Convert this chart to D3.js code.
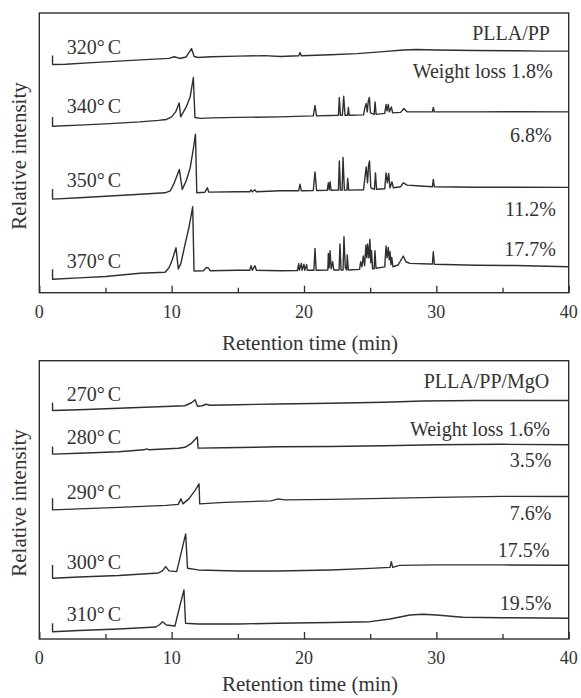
<!DOCTYPE html>
<html><head><meta charset="utf-8">
<script src="https://cdn.jsdelivr.net/npm/d3@7"></script>
<style>
body{margin:0;background:#fff}
text{font-family:"Liberation Serif","Times New Roman",serif;fill:#333}
</style></head>
<body><svg id="c" width="581" height="698"></svg>
<script>
// ---------------- data ----------------
const xTicks = [0, 10, 20, 30, 40];
const xMinorTicks = [5, 15, 25, 35];
const xTitle = "Retention time (min)";
const yTitle = "Relative intensity";

const topSample = "PLLA/PP";
const topTemps = ["320", "340", "350", "370"];
const topLosses = ["Weight loss 1.8%", "6.8%", "11.2%", "17.7%"];

const botSample = "PLLA/PP/MgO";
const botTemps = ["270", "280", "290", "300", "310"];
const botLosses = ["Weight loss 1.6%", "3.5%", "7.6%", "17.5%", "19.5%"];

// [retention time (min), relative intensity incl. stacking offset]
const t320 = [[1.0,237.5],[1.0,228.5],[2,228.7],[4,230.3],[6,231.8],[8,233.3],[9.8,234.6],[10.2,236.2],[10.6,234.5],[11.1,236],[11.5,244.4],[11.7,236.5],[12,235.5],[13,236.2],[15,236.8],[17,237.3],[18.2,236.5],[19.6,237.2],[19.7,240.5],[19.8,237.2],[22,238.2],[24,239.3],[26,241.3],[27.5,243],[28.5,243.5],[30,243],[33,242.5],[36,242.2],[38,241.8],[40,241.8]];
const t340 = [[1.0,176],[1.0,166.7],[3,167.8],[5,169],[7.6,171],[9.0,172.5],[9.6,173.4],[10.0,176],[10.3,181],[10.57,190],[10.68,176],[11.1,186],[11.4,196],[11.64,215.4],[11.76,175.4],[12.2,174.5],[13,175],[15,175.5],[18.2,176],[20.0,176.8],[20.7,177],[20.83,187.4],[20.95,177],[22,177.4],[22.6,177.7],[22.67,195.4],[22.75,177.7],[22.9,177.7],[23.0,196.7],[23.1,177.7],[23.3,177.7],[23.35,185.4],[23.42,177.7],[24.5,178],[24.6,185],[24.7,189.4],[24.78,181],[24.86,192],[24.94,195.4],[25.02,180],[25.3,178.5],[25.37,191],[25.45,178.5],[26.1,179.5],[26.2,188.4],[26.28,182],[26.37,188.4],[26.45,181],[26.6,186],[26.7,180],[27.3,180.5],[27.55,184.4],[27.8,181],[29.7,181],[29.77,185.4],[29.85,181],[33,181],[36,181.2],[40,181]];
const t350 = [[1.0,103.7],[1.0,93.7],[3,95],[5,96.5],[7,98],[9.5,100],[9.9,102],[10.2,110],[10.58,123.4],[10.8,103.4],[11.1,112],[11.4,125],[11.65,145],[11.8,158.7],[11.9,100],[12.5,100.5],[12.7,105],[12.8,100.7],[15,101],[15.9,101],[16.0,103],[16.1,101],[16.3,103],[16.4,101],[18.2,102],[19.6,102],[19.7,108.7],[19.8,102],[20.7,102.3],[20.83,121],[20.95,102.3],[21.75,102.5],[21.84,110],[21.9,103],[21.97,111],[22.05,102.5],[22.6,102.7],[22.67,132],[22.75,102.7],[22.88,102.7],[22.95,135.4],[23.05,102.7],[23.25,102.7],[23.3,114.4],[23.38,102.7],[24.5,103],[24.6,115],[24.7,126],[24.8,110],[24.88,128],[24.95,132],[25.05,105],[25.32,103.5],[25.4,120],[25.48,103.5],[26.1,104],[26.2,120],[26.3,110],[26.4,119.4],[26.5,105],[26.65,111],[26.75,105],[27.3,106],[27.5,110],[27.8,107.7],[28.5,107],[29.7,106],[29.77,113.4],[29.85,106],[33,105.5],[36,105.5],[40,105.4]];
const t370 = [[1.0,23.4],[1.0,13.4],[3,14.8],[5,16.2],[7.6,19.4],[9.5,20.4],[9.8,25],[10.05,33],[10.33,45],[10.5,23.7],[10.7,29.4],[11.0,47.7],[11.3,65],[11.59,86],[11.69,21.7],[12.4,22],[12.6,25],[12.77,25],[12.9,22],[15,22.5],[15.9,22.5],[16.0,27],[16.1,22.5],[16.3,27],[16.4,22.5],[18.2,22],[19.5,22.2],[19.6,29],[19.65,22.5],[19.8,29.4],[19.85,22.5],[20.0,28.5],[20.05,22.5],[20.2,28],[20.25,22.4],[20.75,22.5],[20.83,44.4],[20.92,22.5],[21.8,22.7],[21.84,39.4],[21.9,25],[21.97,42],[22.05,24],[22.17,31],[22.25,22.7],[22.65,22.7],[22.72,48.7],[22.8,22.7],[22.95,22.7],[23.02,56],[23.12,25],[23.22,22.7],[23.27,37.7],[23.35,22.7],[24.2,23.4],[24.28,31],[24.38,26],[24.48,36.7],[24.58,27],[24.68,47.7],[24.75,35],[24.81,48.7],[24.9,35],[24.98,53.4],[25.04,30],[25.1,42],[25.18,24],[25.3,24],[25.36,42],[25.44,24.5],[26.1,25.8],[26.2,46.7],[26.28,35],[26.37,45.4],[26.44,33],[26.5,41],[26.57,28],[26.63,35.4],[26.72,26],[27.1,27.7],[27.35,33],[27.5,36.7],[27.7,31],[28,29.4],[29.5,28.7],[29.7,28.6],[29.77,41],[29.85,28.5],[33,27.5],[36,27.2],[40,26]];

const b270 = [[1.0,236.3],[1.0,228.3],[3,229],[6,230.5],[9,232],[11.0,233],[11.5,236],[11.77,239],[11.95,232.5],[12.3,233],[12.6,234.5],[12.9,233.5],[15,234],[18,234.8],[22,235.5],[26,236.5],[29,237.8],[33,238.3],[40,238.3]];
const b280 = [[1.0,192.3],[1.0,184.7],[3,185.5],[6,187],[7.9,189],[8.1,190],[8.3,189],[10.5,190.5],[11.0,191.5],[11.5,195.5],[11.94,201.7],[12.0,190.7],[14,191],[18,192],[22,192.3],[26,193],[30,194],[35,194.5],[40,194]];
const b290 = [[1.0,140.7],[1.0,129],[3,130],[6,131.5],[9.6,133.5],[10.5,134.5],[10.7,140],[10.85,135],[11.3,140],[11.8,149],[12.07,155],[12.12,135],[14,136.5],[17.5,138],[18.06,140],[18.5,139],[22,139.5],[26,140.5],[30,141.5],[35,142.5],[40,142.3]];
const b300 = [[1.0,74],[1.0,60.7],[3,62],[6,63.5],[9.0,66],[9.3,68],[9.55,72.3],[9.8,68],[10.38,67.3],[10.7,85],[11.06,105],[11.2,70.7],[12,69],[15,68],[18,68],[22,69],[25,70.5],[26.5,71.5],[26.6,77.3],[26.7,71.5],[27.2,73.5],[30,74],[35,74],[40,73.7]];
const b310 = [[1.0,15.7],[1.0,7.3],[3,8.5],[6,10],[8.8,12],[9.1,14.5],[9.32,17.3],[9.6,14],[10.25,13],[10.6,32],[10.93,49],[11.05,15.7],[12,15],[15,15],[18,15.7],[22,16.5],[25,17.3],[26.5,20],[28,24],[29,24.7],[30,24],[32,21.7],[35,21.3],[38,21],[40,20.7]];

const topSeries = [t320, t340, t350, t370];
const botSeries = [b270, b280, b290, b300, b310];

// ---------------- layout ----------------
const svg = d3.select("#c");
const X0 = 39.3, X1 = 568.7;
const ink = "#2f2f2f";

const panels = [
  {top: 13, bottom: 292.7, yMax: 280, series: topSeries, temps: topTemps, losses: topLosses, sample: topSample,
   tempBase: [54.3, 113.3, 187.3, 267.7],
   sampleLab: [550, 40],
   lossLab: [[552.7, 78.3], [551.7, 141.7], [556, 216], [556, 256]],
   tickBase: 317.5, titleBase: 350, yTitleMid: 156},
  {top: 360.7, bottom: 639, yMax: 278, series: botSeries, temps: botTemps, losses: botLosses, sample: botSample,
   tempBase: [401, 444.3, 499.3, 569, 621],
   sampleLab: [549.3, 388.3],
   lossLab: [[550, 436], [551.5, 466.7], [551.5, 520], [549.3, 557.3], [551.5, 610]],
   tickBase: 663.5, titleBase: 690.5, yTitleMid: 503}
];

panels.forEach(p => {
  const x = d3.scaleLinear().domain([0, 40]).range([X0, X1]);
  const y = d3.scaleLinear().domain([0, p.yMax]).range([p.bottom, p.top]);
  const g = svg.append("g");

  const line = d3.line().x(d => x(d[0])).y(d => y(d[1]));
  g.selectAll("path.trace").data(p.series).join("path")
    .attr("class", "trace")
    .attr("d", line)
    .attr("fill", "none")
    .attr("stroke", ink)
    .attr("stroke-width", 1.4)
    .attr("stroke-linejoin", "round");

  // axis ticks (inward) via d3 axis
  const ax = g.append("g").attr("transform", `translate(0,${p.bottom})`)
    .call(d3.axisBottom(x).tickValues(xTicks).tickSize(-7).tickFormat(""));
  ax.select(".domain").remove();
  ax.selectAll("line").attr("stroke", ink).attr("stroke-width", 1.3);
  const axm = g.append("g").attr("transform", `translate(0,${p.bottom})`)
    .call(d3.axisBottom(x).tickValues(xMinorTicks).tickSize(-5).tickFormat(""));
  axm.select(".domain").remove();
  axm.selectAll("line").attr("stroke", ink).attr("stroke-width", 1.3);

  // tick labels
  g.selectAll("text.tl").data(xTicks).join("text")
    .attr("class", "tl")
    .attr("x", d => x(d)).attr("y", p.tickBase)
    .attr("text-anchor", "middle")
    .style("font-size", "18px")
    .text(d => d);

  // frame
  g.append("rect").attr("x", X0).attr("y", p.top)
    .attr("width", X1 - X0).attr("height", p.bottom - p.top)
    .attr("fill", "none").attr("stroke", ink).attr("stroke-width", 1.4);

  // titles
  g.append("text").attr("x", 310).attr("y", p.titleBase)
    .attr("text-anchor", "middle").style("font-size", "21px").text(xTitle);
  g.append("text").attr("transform", `translate(25.5,${p.yTitleMid}) rotate(-90)`)
    .attr("text-anchor", "middle").style("font-size", "21px").text(yTitle);

  // temperature labels
  p.temps.forEach((t, i) => {
    const tx = g.append("text").attr("x", 66.7).attr("y", p.tempBase[i]).style("font-size", "20px");
    tx.append("tspan").text(t + "°");
    tx.append("tspan").attr("dx", 3).text("C");
  });
  // sample label
  g.append("text").attr("x", p.sampleLab[0]).attr("y", p.sampleLab[1])
    .attr("text-anchor", "end").style("font-size", "20px").text(p.sample);
  // weight loss labels
  p.losses.forEach((l, i) => {
    g.append("text").attr("x", p.lossLab[i][0]).attr("y", p.lossLab[i][1])
      .attr("text-anchor", "end").style("font-size", "20px").text(l);
  });
});
</script>
</body></html>
